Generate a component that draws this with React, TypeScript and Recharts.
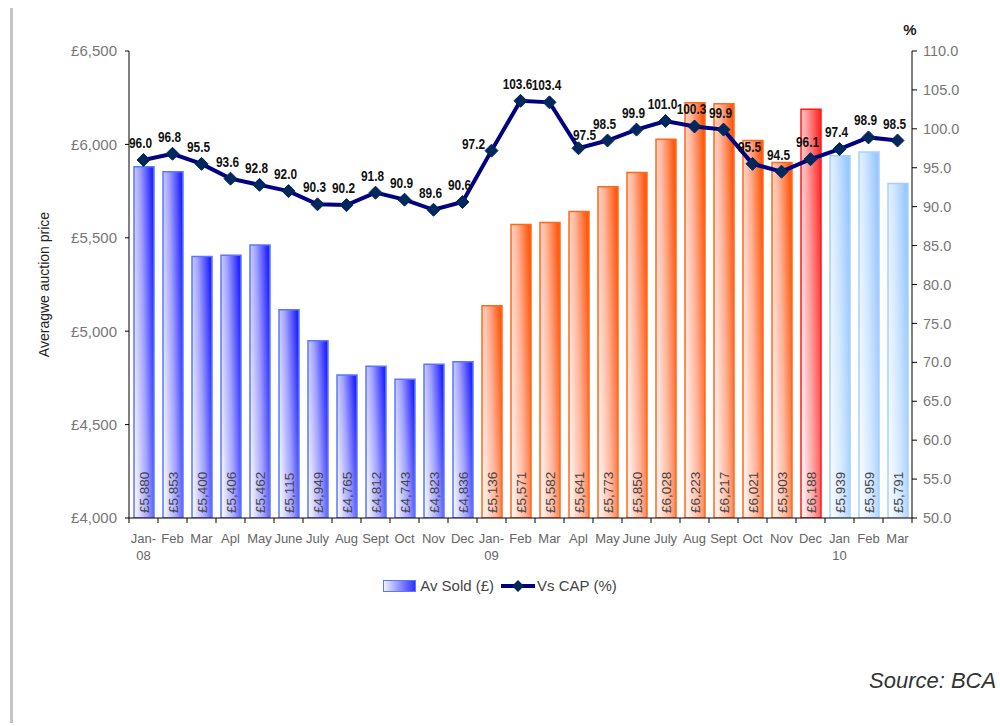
import React from 'react';
import { ComposedChart, Bar, Line, XAxis, YAxis, Cell, LabelList, Legend } from 'recharts';

const categories = ['Jan-\n08', 'Feb', 'Mar', 'Apl', 'May', 'June', 'July', 'Aug', 'Sept', 'Oct', 'Nov', 'Dec',
  'Jan-\n09', 'Feb', 'Mar', 'Apl', 'May', 'June', 'July', 'Aug', 'Sept', 'Oct', 'Nov', 'Dec',
  'Jan\n10', 'Feb', 'Mar'];
const avSold = [5880, 5853, 5400, 5406, 5462, 5115, 4949, 4765, 4812, 4743, 4823, 4836,
  5136, 5571, 5582, 5641, 5773, 5850, 6028, 6223, 6217, 6021, 5903, 6188,
  5939, 5959, 5791];
const vsCap = [96.0, 96.8, 95.5, 93.6, 92.8, 92.0, 90.3, 90.2, 91.8, 90.9, 89.6, 90.6,
  97.2, 103.6, 103.4, 97.5, 98.5, 99.9, 101.0, 100.3, 99.9, 95.5, 94.5, 96.1,
  97.4, 98.9, 98.5];
const leftTicks = [4000, 4500, 5000, 5500, 6000, 6500];
const rightTicks = [50, 55, 60, 65, 70, 75, 80, 85, 90, 95, 100, 105, 110];
// colour group of each bar: b = 2008, o = 2009, r = Dec 2009, l = 2010
const barGroups = ['b', 'b', 'b', 'b', 'b', 'b', 'b', 'b', 'b', 'b', 'b', 'b',
  'o', 'o', 'o', 'o', 'o', 'o', 'o', 'o', 'o', 'o', 'o', 'r',
  'l', 'l', 'l'];

const data = categories.map((c, i) => ({ cat: c, sold: avSold[i], cap: vsCap[i] }));

const groupStyle: Record<string, { fill: string; stroke: string }> = {
  b: { fill: 'url(#gBlue)', stroke: '#5a78ff' },
  o: { fill: 'url(#gOrange)', stroke: '#ff6a1a' },
  r: { fill: 'url(#gRed)', stroke: '#ff1a1a' },
  l: { fill: 'url(#gLight)', stroke: '#a6cfff' },
};

// small label nudges (dx, dy) to mimic original placement
const capLabelNudge: Record<number, [number, number]> = {
  12: [-18, 10],
  15: [6, 4],
};

const FONT = '"Liberation Sans", Arial, Helvetica, sans-serif';

const fmtPound = (v: number) => '£' + String(v).replace(/\B(?=(\d{3})+(?!\d))/g, ',');

const XTick = (props: any) => {
  const { x, y, payload, index, width } = props;
  const half = width / categories.length / 2;
  const lines = String(payload.value).split('\n');
  return (
    <g>
      <line x1={x - half} x2={x - half} y1={y} y2={y + 5} stroke="#000" strokeWidth={1} />
      {index === categories.length - 1 && (
        <line x1={x + half} x2={x + half} y1={y} y2={y + 5} stroke="#000" strokeWidth={1} />
      )}
      {lines.map((l, i) => (
        <text key={i} x={x} y={y + 25 + i * 17} textAnchor="middle" fontSize={13} fill="#666" fontFamily={FONT}>
          {l}
        </text>
      ))}
    </g>
  );
};

const Diamond = (props: any) => {
  const { cx, cy, index } = props;
  if (cx == null || cy == null) return null;
  const s = 6.5;
  return (
    <path key={`d${index}`} d={`M${cx},${cy - s} L${cx + s},${cy} L${cx},${cy + s} L${cx - s},${cy} Z`}
      fill="#00285c" stroke="#00285c" strokeWidth={1} />
  );
};

const BarValueLabel = (props: any) => {
  const { x, y, width, height, value } = props;
  const cx = x + width / 2;
  const by = y + height - 5;
  return (
    <text x={cx} y={by} transform={`rotate(-90, ${cx}, ${by})`} textAnchor="start" dominantBaseline="central"
      fontSize={13.5} fill="#444" fontFamily={FONT}>
      {fmtPound(value)}
    </text>
  );
};

const CapLabel = (props: any) => {
  const { x, y, value, index } = props;
  const [dx, dy] = capLabelNudge[index] || [-3, 0];
  const tx = x + dx;
  const ty = y - 12 + dy;
  return (
    <text x={0} y={0} transform={`translate(${tx}, ${ty}) scale(0.82, 1)`} textAnchor="middle" fontSize={14.5}
      fontWeight="bold" fill="#111" fontFamily={FONT}>
      {Number(value).toFixed(1)}
    </text>
  );
};

const LegendContent = () => (
  <div style={{ display: 'flex', justifyContent: 'center', alignItems: 'center', fontFamily: FONT, fontSize: 15, color: '#444' }}>
    <span style={{ display: 'inline-block', width: 31, height: 10, border: '1px solid #5a78ff',
      background: 'linear-gradient(to right, #f0f0ff, #3030ff)', marginRight: 4 }} />
    <span>Av Sold (£)</span>
    <svg width={36} height={14} style={{ marginLeft: 6, marginRight: 1 }}>
      <line x1={1} x2={35} y1={7} y2={7} stroke="#000080" strokeWidth={4} />
      <path d="M18,1 L24,7 L18,13 L12,7 Z" fill="#00285c" />
    </svg>
    <span>Vs CAP (%)</span>
  </div>
);

export default function App() {
  return (
    <div style={{ position: 'absolute', left: 0, top: 0, width: 1000, height: 726, background: '#fff' }}>
      <div style={{ position: 'absolute', left: 10, top: 8, width: 3, height: 715, background: '#c4c4c4' }} />
      <ComposedChart width={1000} height={726} data={data}
        margin={{ top: 51, right: 28, left: 0, bottom: 168 }} barSize={20}>
        <defs>
          <linearGradient id="gBlue" x1="0" y1="0.7" x2="1" y2="0.3">
            <stop offset="0" stopColor="#f2f2ff" />
            <stop offset="0.5" stopColor="#a0a0ff" />
            <stop offset="1" stopColor="#2424ff" />
          </linearGradient>
          <linearGradient id="gOrange" x1="0" y1="0.7" x2="1" y2="0.3">
            <stop offset="0" stopColor="#fff2ee" />
            <stop offset="0.5" stopColor="#ffb49a" />
            <stop offset="1" stopColor="#ff5a10" />
          </linearGradient>
          <linearGradient id="gRed" x1="0" y1="0.7" x2="1" y2="0.3">
            <stop offset="0" stopColor="#fff0f0" />
            <stop offset="0.5" stopColor="#ff9a9a" />
            <stop offset="1" stopColor="#ff3030" />
          </linearGradient>
          <linearGradient id="gLight" x1="0" y1="0.7" x2="1" y2="0.3">
            <stop offset="0" stopColor="#f6fbff" />
            <stop offset="0.5" stopColor="#d0e6ff" />
            <stop offset="1" stopColor="#98c8ff" />
          </linearGradient>
        </defs>
        <XAxis dataKey="cat" interval={0} tickLine={false} tickSize={0} tickMargin={0} height={40}
          axisLine={{ stroke: '#000' }} tick={<XTick />} />
        <YAxis yAxisId="left" orientation="left" width={129} domain={[4000, 6500]} ticks={leftTicks}
          allowDataOverflow tickFormatter={fmtPound} tickSize={4} tickMargin={8}
          axisLine={{ stroke: '#000' }} tickLine={{ stroke: '#000' }}
          tick={{ fontSize: 15, fill: '#777', fontFamily: FONT }}
          label={(p: any) => {
            const vb = p.viewBox || {};
            const cx = (vb.x || 0) + 44;
            const cy = (vb.y || 51) + (vb.height || 467) / 2;
            return (
              <text x={cx} y={cy} transform={`rotate(-90, ${cx}, ${cy})`} textAnchor="middle" dominantBaseline="central"
                fontSize={14} fill="#222" fontFamily={FONT}>Averagwe auction price</text>
            );
          }} />
        <YAxis yAxisId="right" orientation="right" width={60} domain={[50, 110]} ticks={rightTicks}
          allowDataOverflow tickFormatter={(v: number) => v.toFixed(1)} tickSize={5} tickMargin={6}
          axisLine={{ stroke: '#000' }} tickLine={{ stroke: '#000' }}
          tick={{ fontSize: 14.5, fill: '#777', fontFamily: FONT }}
          label={(p: any) => {
            const vb = p.viewBox || {};
            return (
              <text x={(vb.x || 912) - 2} y={(vb.y || 51) - 16} textAnchor="middle" fontSize={15} fontWeight="bold"
                fill="#222" fontFamily={FONT}>%</text>
            );
          }} />
        <Bar yAxisId="left" dataKey="sold" name="Av Sold (£)" isAnimationActive={false} strokeWidth={1.5}>
          {data.map((d, i) => (
            <Cell key={i} fill={groupStyle[barGroups[i]].fill} stroke={groupStyle[barGroups[i]].stroke} />
          ))}
          <LabelList dataKey="sold" content={<BarValueLabel />} />
        </Bar>
        <Line yAxisId="right" dataKey="cap" name="Vs CAP (%)" type="linear" stroke="#000080" strokeWidth={4}
          dot={<Diamond />} activeDot={false} isAnimationActive={false}>
          <LabelList dataKey="cap" content={<CapLabel />} />
        </Line>
        <Legend layout="horizontal" verticalAlign="middle" align="center" content={<LegendContent />}
          wrapperStyle={{ top: 577, left: 0, width: 1000, height: 20 }} />
      </ComposedChart>
      <div style={{ position: 'absolute', left: 869, top: 670, fontFamily: FONT, fontStyle: 'italic', fontSize: 22,
        color: '#333', lineHeight: 1, whiteSpace: 'nowrap' }}>Source: BCA</div>
    </div>
  );
}
